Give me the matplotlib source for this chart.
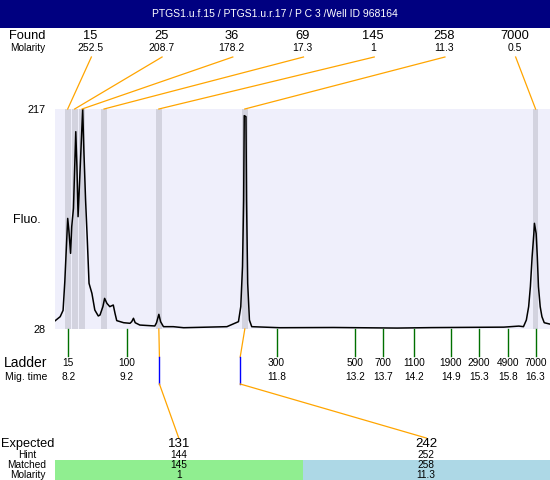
import numpy as np
import matplotlib.pyplot as plt

plt.rcParams['font.family'] = ['Liberation Sans', 'DejaVu Sans']

title = "PTGS1.u.f.15 / PTGS1.u.r.17 / P C 3 /Well ID 968164"

# electropherogram: migration time (s) vs fluorescence
trace_time = [7.97, 8.06, 8.11, 8.14, 8.19, 8.21, 8.24, 8.26, 8.29, 8.33, 8.35, 8.37,
              8.40, 8.45, 8.47, 8.50, 8.53, 8.56, 8.61, 8.66, 8.72, 8.75, 8.80, 8.83,
              8.87, 8.92, 8.98, 9.01, 9.04, 9.16, 9.27, 9.30, 9.33, 9.36, 9.44, 9.70,
              9.73, 9.77, 9.80, 9.85, 10.02, 10.20, 10.95, 11.15, 11.19, 11.22, 11.24,
              11.25, 11.28, 11.29, 11.31, 11.34, 11.38, 11.87, 12.80, 13.90, 14.50,
              15.10, 15.75, 16.01, 16.09, 16.14, 16.18, 16.21, 16.24, 16.27, 16.28,
              16.31, 16.33, 16.35, 16.38, 16.41, 16.45, 16.55]
trace_fluo = [35, 38.6, 44, 68.7, 123, 113, 93, 116, 131.7, 197.5, 167.5, 124.5,
              158.9, 217, 181.8, 138.8, 104.5, 67.2, 58.6, 44.3, 39.2, 40, 47.2, 54.3,
              50, 47.2, 48.6, 41.5, 35.2, 33.4, 32.9, 34.3, 37.2, 33.4, 31.4, 30.6,
              33.4, 40.6, 34.3, 30, 30, 29.1, 30, 34.3, 47.2, 81.6, 138.8,
              211.3, 210.4, 138.8, 67.2, 35.7, 30, 29.1, 29.3, 28.8, 29.2,
              29.4, 29.6, 30.5, 30, 35.7, 47.2, 64.4, 90, 110, 118.8,
              110, 90, 64.4, 47.2, 38.6, 33.4, 32.2]

found_size = ["15", "25", "36", "69", "145", "258", "7000"]
found_molarity = ["252.5", "208.7", "178.2", "17.3", "1", "11.3", "0.5"]
found_time = [8.19, 8.31, 8.44, 8.82, 9.77, 11.26, 16.30]

ladder_size = ["15", "100", "300", "500", "700", "1100", "1900", "2900", "4900", "7000"]
ladder_mig = ["8.2", "9.2", "11.8", "13.2", "13.7", "14.2", "14.9", "15.3", "15.8", "16.3"]
ladder_time = [8.20, 9.21, 11.81, 13.17, 13.65, 14.20, 14.83, 15.32, 15.82, 16.30]

expected = ["131", "242"]
hint = ["144", "252"]
matched = ["145", "258"]
matched_molarity = ["1", "11.3"]
matched_time = [9.77, 11.26]
expected_time = [9.78, 11.18]

fig = plt.figure(figsize=(5.5, 4.8), dpi=100)
W, H = 550, 480
left, top, bottom = 55, 109, 329

ax = fig.add_axes([left / W, (H - bottom) / H, (W - left) / W, (bottom - top) / H])
ax.set_facecolor("#efeffb")
ax.set_xlim(7.97, 16.55)
ax.set_ylim(28, 217)
for t in found_time:
    ax.axvspan(t - 0.05, t + 0.05, color="#d3d3df", lw=0)
ax.plot(trace_time, trace_fluo, color="black", lw=1.1)
for s in ax.spines.values():
    s.set_visible(False)
ax.set_xticks([])
ax.set_yticks([28, 217])
ax.set_yticklabels(["28", "217"], fontsize=7.8)
ax.tick_params(axis="y", length=0, pad=7)

# overlay in pixel coordinates for the annotation rows
ov = fig.add_axes([0, 0, 1, 1], zorder=5)
ov.set_xlim(0, W)
ov.set_ylim(H, 0)
ov.axis("off")
ov.patch.set_alpha(0)


def time_px(t):
    p = ax.transData.transform((t, 28))
    return ov.transData.inverted().transform(p)[0]


ov.add_patch(plt.Rectangle((0, 0), W, 28, color="#000080", lw=0))
ov.text(W / 2, 14, title, color="white", fontsize=7.5, ha="center", va="center")

ov.text(45, 36, "Found", fontsize=9.3, ha="right", va="center")
ov.text(45, 48, "Molarity", fontsize=7.2, ha="right", va="center")
ov.text(27, 220, "Fluo.", fontsize=9, ha="center", va="center")

col_w = (W - left) / len(found_size)
for i, (sz, mol, t) in enumerate(zip(found_size, found_molarity, found_time)):
    x = left + col_w * (i + 0.5)
    ov.text(x, 36, sz, fontsize=9.3, ha="center", va="center")
    ov.text(x, 48, mol, fontsize=7.5, ha="center", va="center")
    ov.plot([x + 1, time_px(t)], [57, top], color="orange", lw=0.9)

# ladder
ov.text(47, 363, "Ladder", fontsize=10, ha="right", va="center")
ov.text(47, 377, "Mig. time", fontsize=7.5, ha="right", va="center")
for sz, mig, t in zip(ladder_size, ladder_mig, ladder_time):
    x = time_px(t)
    ov.plot([x, x], [bottom, 356], color="#007000", lw=1)
    ov.text(x, 363, sz, fontsize=7.3, ha="center", va="center")
    ov.text(x, 377, mig, fontsize=7.3, ha="center", va="center")

# expected / matched table
ov.text(27.5, 444, "Expected", fontsize=9.2, ha="center", va="center")
ov.text(27, 455, "Hint", fontsize=7.3, ha="center", va="center")
ov.text(27, 465, "Matched", fontsize=7.3, ha="center", va="center")
ov.text(28, 474.5, "Molarity", fontsize=7.3, ha="center", va="center")
half = (W - left) / len(expected)
colors = ["#90ee90", "#add8e6"]
for i in range(len(expected)):
    x = left + half * (i + 0.5)
    ov.add_patch(plt.Rectangle((left + half * i, 460), half, 20, color=colors[i], lw=0))
    xm = time_px(matched_time[i])
    xe = time_px(expected_time[i])
    ov.plot([xm, xe], [bottom, 357], color="orange", lw=0.9)
    ov.plot([xe, xe], [357, 384], color="blue", lw=1)
    ov.plot([xe, x], [384, 438], color="orange", lw=0.9)
    ov.text(x, 444, expected[i], fontsize=9.5, ha="center", va="center")
    ov.text(x, 455, hint[i], fontsize=7.3, ha="center", va="center")
    ov.text(x, 465, matched[i], fontsize=7.3, ha="center", va="center")
    ov.text(x, 474.5, matched_molarity[i], fontsize=7.3, ha="center", va="center")

fig.savefig("out.png", dpi=100)
